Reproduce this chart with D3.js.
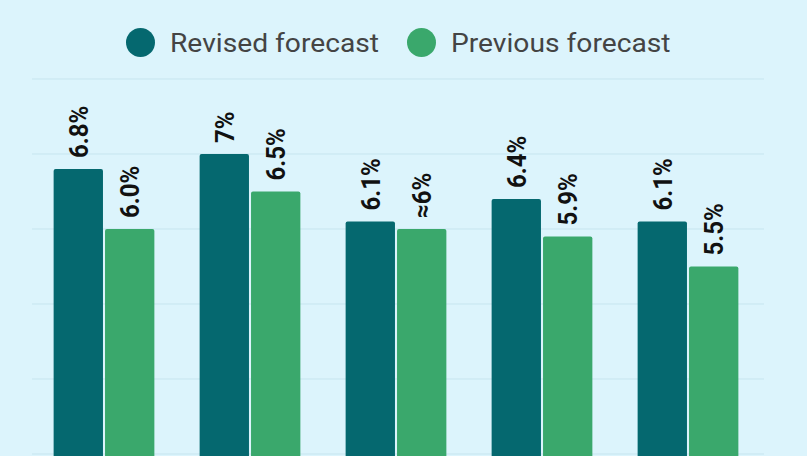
<!DOCTYPE html>
<html>
<head>
<meta charset="utf-8">
<script src="https://cdn.jsdelivr.net/npm/d3@7"></script>
<style>
  html, body { margin: 0; padding: 0; background: #dcf4fc; overflow: hidden; }
  svg { display: block; }
</style>
</head>
<body>
<div id="chart"></div>
<script>
// Chart data
const categories = ["A", "B", "C", "D", "E"];
const revised = [6.8, 7.0, 6.1, 6.4, 6.1];
const previous = [6.0, 6.5, 6.0, 5.9, 5.5];
const revisedLabels = ["6.8%", "7%", "6.1%", "6.4%", "6.1%"];
const previousLabels = ["6.0%", "6.5%", "≈6%", "5.9%", "5.5%"];
const seriesNames = ["Revised forecast", "Previous forecast"];
const yTicks = [0, 1, 2, 3, 4, 5, 6, 7, 8];

const width = 807;
const height = 456;

const color = d3.scaleOrdinal()
    .domain(seriesNames)
    .range(["#05686f", "#3aa86c"]);

const svg = d3.select("#chart")
    .append("svg")
    .attr("width", width)
    .attr("height", height);

svg.append("rect")
    .attr("width", width)
    .attr("height", height)
    .attr("fill", "#dcf4fc");

// Scales (zero sits below the visible area, the picture is cropped)
const yScale = d3.scaleLinear()
    .domain([0, 8])
    .range([679, 79]);

const xScale = d3.scaleBand()
    .domain(categories)
    .range([31, 761])
    .paddingInner(0.31)
    .paddingOuter(0.155);

const xSub = d3.scaleBand()
    .domain(seriesNames)
    .range([0, xScale.bandwidth()])
    .paddingInner(0.04);

// Gridlines
svg.append("g")
    .selectAll("line")
    .data(yTicks)
    .enter().append("line")
    .attr("x1", 32)
    .attr("x2", 764)
    .attr("y1", d => yScale(d))
    .attr("y2", d => yScale(d))
    .attr("stroke", "#c6e5ef")
    .attr("stroke-width", 1);

// Build rows for bars
const rows = [];
categories.forEach((c, i) => {
    rows.push({cat: c, series: seriesNames[0], value: revised[i], label: revisedLabels[i]});
    rows.push({cat: c, series: seriesNames[1], value: previous[i], label: previousLabels[i]});
});

const bars = svg.append("g")
    .selectAll("g")
    .data(rows)
    .enter().append("g")
    .attr("transform", d => "translate(" + (xScale(d.cat) + xSub(d.series)) + ",0)");

bars.append("rect")
    .attr("x", 0)
    .attr("y", d => yScale(d.value))
    .attr("width", xSub.bandwidth())
    .attr("height", d => yScale(0) - yScale(d.value))
    .attr("rx", 2)
    .attr("fill", d => color(d.series));

// Rotated value labels (slightly stretched across, like the source)
bars.append("text")
    .attr("transform", d => "translate(" + (xSub.bandwidth() / 2) + "," + (yScale(d.value) - 11) + ") rotate(-90) scale(1,1.1)")
    .attr("dy", "0.36em")
    .attr("text-anchor", "start")
    .style("font-family", "Roboto, sans-serif")
    .style("font-weight", "bold")
    .style("font-size", "24px")
    .attr("fill", "#111")
    .text(d => d.label);

// Legend
const legendX = [140.5, 421.5];
const legend = svg.append("g")
    .selectAll("g")
    .data(seriesNames)
    .enter().append("g")
    .attr("transform", (d, i) => "translate(" + legendX[i] + ",42.5)");

legend.append("circle")
    .attr("r", 14.5)
    .attr("fill", d => color(d));

legend.append("text")
    .attr("transform", "translate(29.5,0) scale(1.085,1)")
    .attr("dy", "0.35em")
    .style("font-family", "Roboto, sans-serif")
    .style("font-size", "26px")
    .attr("fill", "#444")
    .text(d => d);
</script>
</body>
</html>
